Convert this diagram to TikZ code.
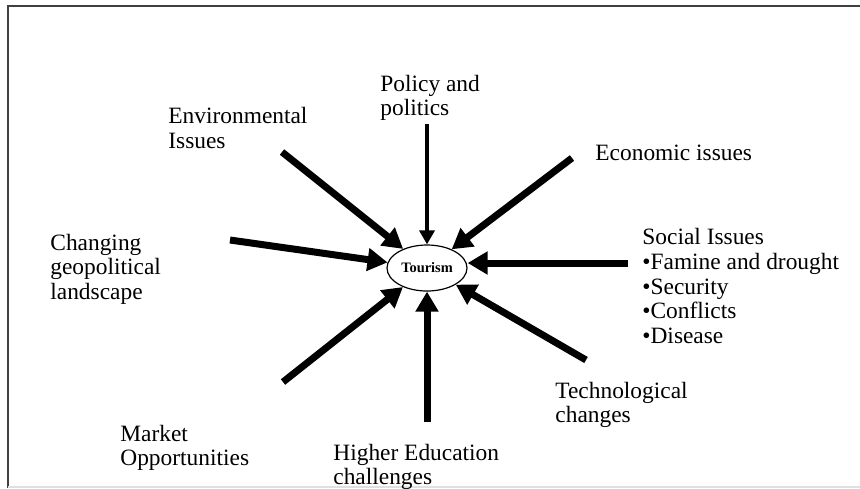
\documentclass[tikz,border=0pt]{standalone}
\usepackage{fontspec}
\setmainfont{Liberation Serif}
\usetikzlibrary{arrows.meta, shapes.geometric}
\tikzset{
	factor/.style={anchor=west, align=left, inner sep=0pt, font=\fontsize{11.7}{12.3}\selectfont},
	bigarrow/.style={line width=3.5pt, -{Triangle[length=10pt, width=11pt]}},
	smallarrow/.style={line width=1.7pt, -{Triangle[length=7pt, width=7.5pt]}}
}
\begin{document}
\begin{tikzpicture}[x=0.5pt, y=-0.5pt]
				\useasboundingbox (0,0) rectangle (860,488);
				\draw[black!75, line width=1.4pt] (8,488) -- (8,6) -- (860,6);
				\draw[black!12, line width=0.6pt] (8,487) -- (860,487);
				\node[ellipse, draw, line width=0.6pt, minimum width=40pt, minimum height=23pt, inner sep=0pt,
					font=\bfseries\fontsize{7.2}{8}\selectfont] (tourism) at (427,268) {Tourism};
				\node[factor] (policy) at (380,98) {Policy and\\politics};
				\node[factor] (environ) at (168,128) {Environmental\\Issues};
				\node[factor] (economic) at (595,153) {Economic issues};
				\node[factor] (changing) at (50,269) {Changing\\geopolitical\\landscape};
				\node[factor] (social) at (642,286) {Social Issues\\•Famine and drought\\•Security\\•Conflicts\\•Disease};
				\node[factor] (techno) at (555,405) {Technological\\changes};
				\node[factor] (market) at (120,448) {Market\\Opportunities};
				\node[factor] (higher) at (333,467) {Higher Education\\challenges};
				\coordinate (policy-s) at (427,124);
				\coordinate (environ-s) at (282,152);
				\coordinate (economic-s) at (572,158);
				\coordinate (changing-s) at (230,240);
				\coordinate (social-s) at (628,263);
				\coordinate (techno-s) at (586,360);
				\coordinate (market-s) at (283,382);
				\coordinate (higher-s) at (427,422);
				\draw[smallarrow] (policy-s) -- (tourism);
				\draw[bigarrow] (environ-s) -- (tourism);
				\draw[bigarrow] (economic-s) -- (tourism);
				\draw[bigarrow] (changing-s) -- (tourism);
				\draw[bigarrow] (social-s) -- (social-s -| tourism.east);
				\draw[bigarrow] (techno-s) -- (tourism);
				\draw[bigarrow] (market-s) -- (tourism);
				\draw[bigarrow] (higher-s) -- (tourism);
			\end{tikzpicture}
\end{document}
